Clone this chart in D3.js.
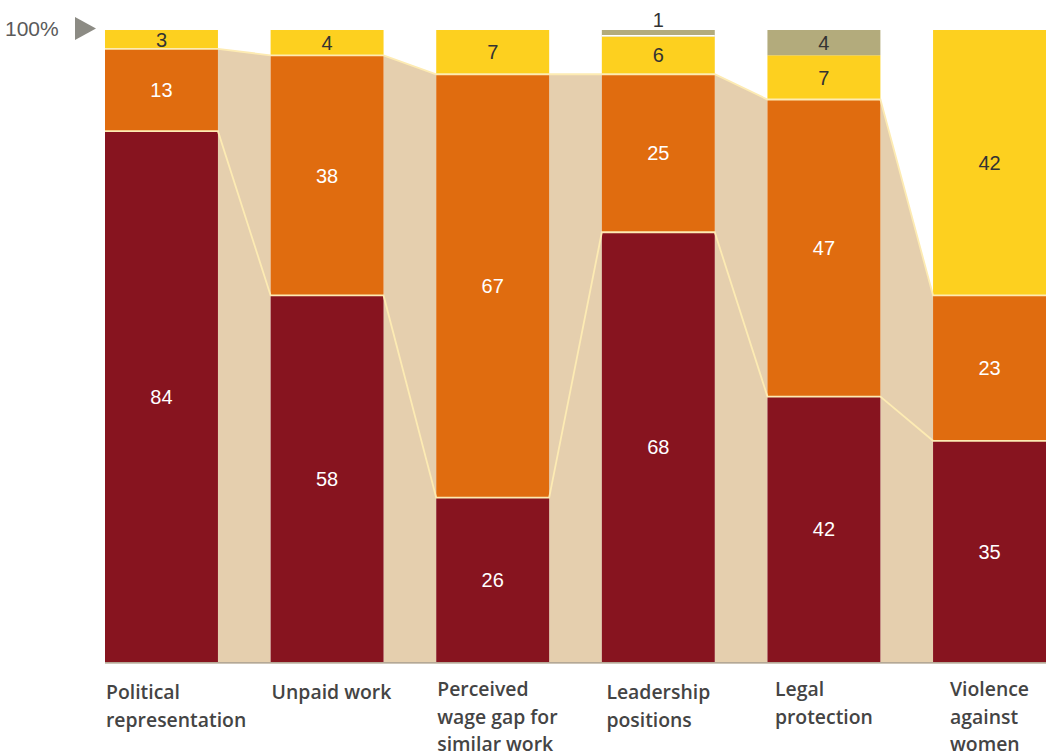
<!DOCTYPE html>
<html><head><meta charset="utf-8">
<script src="https://cdn.jsdelivr.net/npm/d3@7"></script>
<style>
body{margin:0;background:#fff;}
svg{display:block;}
</style></head>
<body>
<svg id="chart" width="1049" height="754"></svg>
<script>
const categories = ["Political representation","Unpaid work","Perceived wage gap for similar work","Leadership positions","Legal protection","Violence against women"];
const labelLines = [["Political","representation"],["Unpaid work"],["Perceived","wage gap for","similar work"],["Leadership","positions"],["Legal","protection"],["Violence","against","women"]];
const seriesNames = ["s1","s2","s3","s4"];
const s1 = [84,58,26,68,42,35];
const s2 = [13,38,67,25,47,23];
const s3 = [3,4,7,6,7,42];
const s4 = [0,0,0,1,4,0];
const seriesValues = [s1,s2,s3,s4];
const colors = ["#87141f","#e06c0f","#fdd01f","#b3ab7c"];
const textColors = ["#fff","#fff","#333","#333"];
const yTickLabel = "100%";

const svg = d3.select("#chart");
const x = d3.scaleBand().domain(categories).range([105,1046]).paddingInner(0.318).paddingOuter(0);
const y = d3.scaleLinear().domain([0,100]).range([662,30]);

const rows = categories.map((c,i)=>{const o={cat:c}; seriesNames.forEach((s,j)=>o[s]=seriesValues[j][i]); return o;});
const stacked = d3.stack().keys(seriesNames)(rows);

// connectors (beige) between bars up to top of s2
const lvl2 = stacked[1];
for(let i=0;i<categories.length-1;i++){
  const pts=[{x:x(categories[i])+x.bandwidth(), v:lvl2[i][1]},{x:x(categories[i+1]), v:lvl2[i+1][1]}];
  svg.append("path").datum(pts)
    .attr("d", d3.area().x(d=>d.x).y0(y(0)).y1(d=>y(d.v)))
    .attr("fill","#e5cfae");
}

// bars
stacked.forEach((layer,j)=>{
  svg.append("g").selectAll("rect").data(layer.filter(d=>d[1]-d[0]>0)).join("rect")
    .attr("x",d=>x(d.data.cat)).attr("width",x.bandwidth())
    .attr("y",d=>y(d[1])).attr("height",d=>y(d[0])-y(d[1]))
    .attr("fill",colors[j]);
});
// white gap above yellow where grey small
stacked[3].forEach(d=>{ if(d[1]-d[0]>0 && d[1]-d[0]<2){
  svg.append("line").attr("x1",x(d.data.cat)).attr("x2",x(d.data.cat)+x.bandwidth())
   .attr("y1",y(d[0])-0.5).attr("y2",y(d[0])-0.5).attr("stroke","#fff").attr("stroke-width",1.5);
}});

// connector lines
[0,1].forEach(j=>{
  const pts=[];
  stacked[j].forEach(d=>{pts.push([x(d.data.cat), y(d[1])]); pts.push([x(d.data.cat)+x.bandwidth(), y(d[1])]);});
  svg.append("path").attr("d", d3.line()(pts)).attr("fill","none")
    .attr("stroke","#fdebb3").attr("stroke-width",1.8);
});

// baseline
svg.append("line").attr("x1",105).attr("x2",1046).attr("y1",y(0)+0.8).attr("y2",y(0)+0.8)
  .attr("stroke","#9b8b73").attr("stroke-width",1.3);

// value labels
stacked.forEach((layer,j)=>{
  layer.forEach(d=>{
    const v=d[1]-d[0]; if(v<=0) return;
    const small = v<2;
    svg.append("text")
      .attr("x", x(d.data.cat)+x.bandwidth()/2)
      .attr("y", small ? y(d[1])-10 : y((d[0]+d[1])/2))
      .attr("dy","0.36em").attr("text-anchor","middle")
      .attr("font-family","Liberation Sans, Arial, sans-serif").attr("font-size",20)
      .attr("fill", small ? "#333" : textColors[j]).text(v);
  });
});

// 100% label and marker
svg.append("text").attr("x",5).attr("y",y(100)-2).attr("dy","0.36em")
  .attr("font-family","Liberation Sans, Arial, sans-serif").attr("font-size",21)
  .attr("fill","#5a5a5a").text(yTickLabel);
svg.append("path").attr("d",`M75,${y(100)-13}L96,${y(100)-1.5}L75,${y(100)+10}Z`).attr("fill","#8c8b84");

// category labels
const fontSize = 19.4;
const fontCat = `600 ${fontSize}px 'Open Sans', sans-serif`;
const ctx = document.createElement("canvas").getContext("2d"); ctx.font = fontCat;
categories.forEach((c,i)=>{
  const lines = labelLines[i];
  const w = d3.max(lines, l=>ctx.measureText(l).width);
  let lx = x(c)+x.bandwidth()/2 - w/2;
  lx = Math.max(lx, x(c)+1);
  const t = svg.append("text")
    .attr("font-family","'Open Sans', sans-serif").attr("font-weight",600).attr("font-size",fontSize).attr("fill","#444");
  const y0 = (lines.length===3 || i===4) ? 696 : 699;
  lines.forEach((l,k)=>t.append("tspan").attr("x",lx).attr("y",y0).attr("dy",k*27.5).text(l));
});
</script>
</body></html>
